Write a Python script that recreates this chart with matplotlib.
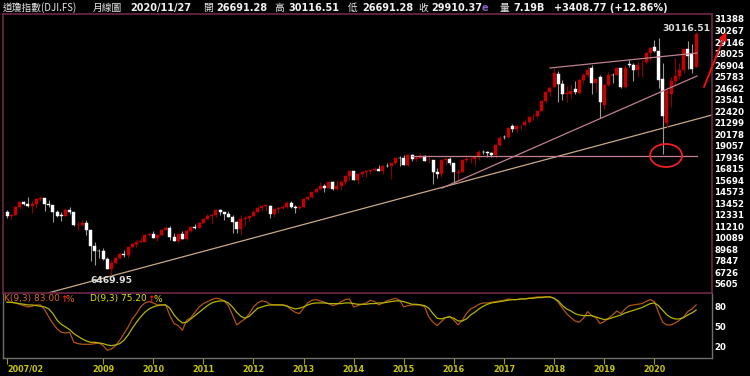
import numpy as np
import matplotlib
matplotlib.use("Agg")
from matplotlib import pyplot as plt
from matplotlib.patches import Ellipse

# monthly Dow Jones candles, 2007/02 .. 2020/11
opens = [
    12621, 12269, 12355, 13063, 13627, 13410, 13212, 13358, 13896, 13930, 13372,
    13262, 12652, 12263, 12264, 12820, 12638, 11346, 11378, 11545, 10847, 9326, 8829,
    8772, 7998, 7063, 7609, 8168, 8500, 8447, 9172, 9496, 9712, 9713, 10343,
    10430, 10068, 10326, 10857, 11009, 10137, 9774, 10466, 10016, 10789, 11118, 11007,
    11577, 11892, 12226, 12320, 12811, 12570, 12414, 12143, 11614, 10912, 11955, 12046,
    12218, 12632, 12952, 13212, 13214, 12391, 12880, 13009, 13091, 13437, 13096, 13026,
    13104, 13861, 14054, 14580, 14840, 15115, 14911, 15500, 14810, 15132, 15545, 16086,
    16572, 15698, 16321, 16458, 16581, 16716, 16826, 16561, 17098, 17041, 17391, 17828,
    17823, 17169, 18135, 17778, 17842, 18011, 17638, 17690, 16528, 16284, 17664, 17720,
    17405, 16452, 16546, 17685, 17774, 17790, 17924, 18432, 18400, 18308, 18141, 19122,
    19872, 19923, 20957, 20665, 20963, 21030, 21392, 21925, 21982, 22423, 23442, 24305,
    24809, 26083, 25025, 24076, 24117, 24542, 24161, 25462, 25964, 26598, 25152, 25779,
    23058, 24999, 25957, 25980, 26608, 24820, 26964, 26891, 26425, 26963, 27157, 28110,
    28639, 28320, 25591, 21227, 24120, 25342, 25879, 26419, 28439, 27940, 26691.28,
]
highs = [
    12796, 12455, 13162, 13692, 13692, 14022, 13659, 14000, 14198, 13914, 13792,
    13279, 12767, 12622, 13010, 13136, 12638, 11698, 11867, 11790, 10882, 9654, 9026,
    9088, 8280, 7925, 8254, 8588, 8878, 9172, 9631, 9918, 10119, 10496, 10580,
    10729, 10410, 10933, 11258, 11208, 10595, 10498, 10719, 10948, 11244, 11451, 11625,
    12020, 12391, 12419, 12876, 12929, 12570, 12753, 12284, 11717, 12284, 12208, 12258,
    12841, 13055, 13289, 13338, 13280, 12898, 13137, 13330, 13653, 13662, 13290, 13330,
    13970, 14149, 14585, 14888, 15542, 15340, 15634, 15659, 15710, 15721, 16174, 16588,
    16588, 16398, 16589, 16631, 16736, 16978, 17152, 17154, 17350, 17395, 17895, 18103,
    18121, 18244, 18289, 18175, 18351, 18176, 18137, 17710, 16933, 17799, 17978, 17996,
    17405, 16795, 17754, 18168, 18003, 18016, 18622, 18668, 18534, 18399, 19152, 19988,
    20125, 20851, 21169, 21071, 21113, 21535, 21929, 22179, 22420, 23485, 24327, 24876,
    26617, 26307, 25449, 24858, 25086, 25402, 25552, 26168, 26769, 26951, 25562, 25980,
    25075, 26242, 26110, 26696, 26640, 26907, 27399, 27075, 27306, 27399, 28175, 28702,
    29374, 29568, 27102, 24764, 25758, 27581, 27150, 28502, 29199, 28958, 30116.51,
]
lows = [
    12050, 11939, 12336, 12918, 13267, 13115, 12518, 12957, 13692, 12743, 13077,
    11634, 12140, 11731, 12250, 12442, 11288, 10827, 11221, 10365, 7882, 7449, 8149,
    7909, 7062, 6469.95, 7520, 8057, 8218, 8087, 9117, 9253, 9672, 9679, 10235,
    10034, 9835, 10306, 10848, 9870, 9757, 9614, 9937, 10010, 10711, 10929, 11006,
    11577, 11892, 11555, 12093, 12334, 11862, 12093, 10604, 10597, 10362, 11231, 11735,
    12218, 12632, 12702, 12710, 12035, 12101, 12492, 12898, 12977, 13013, 12471, 12883,
    13104, 13784, 13937, 14434, 14740, 14551, 14909, 14760, 14778, 14720, 15284, 15703,
    15699, 15340, 16015, 16015, 16334, 16647, 16563, 16333, 16945, 15855, 17278, 17068,
    17136, 17037, 17585, 17563, 17818, 17575, 17399, 15370, 15942, 16014, 17210, 17138,
    15450, 15503, 16511, 17485, 17331, 17063, 17713, 18277, 17992, 17959, 17884, 19057,
    19678, 19831, 20412, 20379, 20554, 20950, 21279, 21600, 21709, 22416, 23242, 23921,
    24741, 23360, 23509, 23344, 23691, 24077, 24077, 25044, 25793, 24123, 24269, 21713,
    22638, 24884, 25208, 25980, 24680, 24680, 26669, 25339, 25743, 25743, 27016, 27325,
    28169, 24681, 18214, 20735, 22789, 24843, 25524, 26170, 26538, 26144, 26691.28,
]
closes = [
    12268, 12354, 13063, 13628, 13409, 13212, 13358, 13896, 13930, 13372, 13265,
    12650, 12266, 12263, 12820, 12638, 11350, 11378, 11544, 10851, 9325, 8829, 8776,
    8001, 7063, 7609, 8168, 8500, 8447, 9172, 9496, 9712, 9713, 10345, 10428,
    10067, 10325, 10857, 11009, 10137, 9774, 10466, 10015, 10788, 11118, 11006, 11578,
    11892, 12226, 12320, 12811, 12570, 12414, 12143, 11614, 10913, 11955, 12046, 12218,
    12633, 12952, 13212, 13214, 12393, 12880, 13009, 13091, 13437, 13096, 13026, 13104,
    13861, 14054, 14579, 14840, 15116, 14910, 15500, 14810, 15130, 15546, 16086, 16577,
    15699, 16322, 16458, 16581, 16717, 16827, 16563, 17098, 17043, 17391, 17828, 17823,
    17165, 18133, 17776, 17841, 18011, 17620, 17690, 16528, 16285, 17664, 17720, 17425,
    16466, 16517, 17685, 17774, 17787, 17930, 18432, 18401, 18308, 18142, 19124, 19763,
    19864, 20812, 20663, 20941, 21009, 21350, 21891, 21948, 22405, 23377, 24272, 24719,
    26149, 25029, 24103, 24163, 24416, 24271, 25415, 25965, 26458, 25116, 25538, 23327,
    24999, 25916, 25929, 26593, 24815, 26600, 26864, 26403, 26917, 27046, 28051, 28538,
    28256, 25409, 21917, 24346, 25383, 25813, 26428, 28430, 27782, 26502, 29910.37,
]

# KD(9,3)
k_vals = [
    87, 87, 86, 84, 82, 80, 81, 83, 83, 76, 65,
    55, 47, 42, 41, 42, 27, 25, 24, 24, 24, 25, 26,
    22, 15, 17, 22, 30, 40, 50, 62, 70, 80, 86, 88,
    86, 83, 83, 83, 67, 55, 52, 45, 60, 64, 72, 80,
    85, 88, 91, 93, 92, 89, 82, 68, 53, 58, 62, 70,
    80, 86, 89, 88, 84, 83, 83, 83, 82, 76, 72, 70,
    78, 86, 90, 91, 89, 87, 85, 82, 84, 88, 91, 92,
    80, 82, 84, 86, 90, 88, 83, 86, 89, 91, 93, 90,
    80, 82, 83, 83, 83, 80, 65, 57, 52, 58, 64, 66,
    60, 53, 60, 70, 77, 80, 84, 86, 86, 87, 88, 89,
    90, 92, 91, 91, 92, 92, 93, 94, 95, 95, 95, 95,
    93, 87, 78, 70, 64, 59, 57, 63, 73, 67, 64, 55,
    58, 63, 68, 74, 70, 77, 82, 83, 84, 85, 88, 91,
    88, 72, 57, 53, 53, 56, 60, 65, 73, 77, 83.0,
]
d_vals = [
    87, 87, 86, 85, 84, 83, 83, 82, 81, 80, 77,
    70, 60, 54, 50, 46, 40, 36, 32, 29, 27, 27, 26,
    25, 23, 22, 23, 25, 30, 38, 48, 57, 65, 72, 77,
    80, 82, 83, 83, 78, 68, 61, 56, 57, 62, 67, 72,
    77, 82, 86, 88, 89, 89, 86, 80, 72, 66, 63, 66,
    72, 78, 80, 82, 83, 83, 83, 83, 81, 79, 77, 78,
    80, 83, 85, 86, 86, 86, 85, 85, 85, 85, 86, 86,
    85, 84, 84, 84, 85, 85, 86, 86, 87, 88, 89, 89,
    88, 86, 84, 84, 83, 82, 78, 70, 63, 62, 64, 65,
    63, 59, 59, 62, 68, 72, 77, 81, 84, 86, 87, 88,
    89, 90, 91, 91, 92, 92, 93, 93, 94, 94, 95, 95,
    93, 89, 82, 77, 74, 70, 68, 67, 67, 67, 65, 63,
    61, 62, 64, 66, 68, 71, 73, 75, 77, 79, 82, 85,
    86, 82, 75, 68, 64, 62, 62, 64, 68, 71, 75.2,
]

year_ticks = [0, 23, 35, 47, 59, 71, 83, 95, 107, 119, 131, 143, 155]
year_labels = ["2007/02", "2009", "2010", "2011", "2012", "2013", "2014",
               "2015", "2016", "2017", "2018", "2019", "2020"]
price_ticks = [31388, 30267, 29146, 28025, 26904, 25783, 24662, 23541, 22420,
               21299, 20178, 19057, 17936, 16815, 15694, 14573, 13452, 12331,
               11210, 10089, 8968, 7847, 6726, 5605]
kd_ticks = [20, 50, 80]

# hand drawn trend lines (month index, price)
tan_line = ([9.8, 168.8], [4729, 22047])
rise_line = ([104.2, 165.2], [14945, 25841])
top_line = ([130.0, 165.2], [26620, 28079])
flat_line = ([97.0, 165.2], [18058, 18058])

W, H = 750, 376
def box(x0, y0, x1, y1):
    return [x0 / W, 1 - y1 / H, (x1 - x0) / W, (y1 - y0) / H]

fig = plt.figure(figsize=(7.5, 3.76), dpi=100, facecolor="black")
ax = fig.add_axes(box(3, 14, 712, 293), facecolor="black")
kd = fig.add_axes(box(3, 294, 712, 358), facecolor="black")

x = np.arange(len(closes))
o = np.array(opens); c = np.array(closes)
up = c > o
body_col = np.where(up, "#c40000", "#ffffff")
wick_col = np.where(up, "#8c0000", "#9a9a9a")

ax.vlines(x, lows, highs, colors=wick_col, linewidth=0.8, zorder=2)
ax.bar(x, np.maximum(np.abs(c - o), 40), bottom=np.minimum(o, c), width=0.72,
       color=body_col, edgecolor=body_col, linewidth=0.3, zorder=3)

ax.plot(*tan_line, color="#c8a888", lw=0.9, zorder=1)
ax.plot(*rise_line, color="#c08090", lw=0.9, zorder=4)
ax.plot(*top_line, color="#c08090", lw=0.9, zorder=4)
ax.plot(*flat_line, color="#c08090", lw=0.9, zorder=4)
ax.add_patch(Ellipse((157.8, 18107), 7.66, 2238, fill=False, edgecolor="#f02020", lw=1.3, zorder=5))

i_hi = int(np.argmax(highs)); i_lo = int(np.argmin(lows))
ax.text(168.3, highs[i_hi] - 80, f"{highs[i_hi]:.2f}", color="#dcdcdc", fontsize=6.6,
        fontweight="bold", ha="right", va="bottom", zorder=6)
ax.text(i_lo, lows[i_lo] - 60, f"{lows[i_lo]:.2f}", color="#dcdcdc", fontsize=6.6,
        fontweight="bold", ha="center", va="top", zorder=6)

xlim = (-0.96, 168.8)
ax.set_xlim(*xlim)
ax.set_ylim(4729, 31874)
ax.set_xticks([])
ax.yaxis.tick_right()
ax.set_yticks(price_ticks)
ax.set_yticklabels([str(v) for v in price_ticks])
ax.tick_params(axis="y", length=0, pad=1.5, labelsize=6.2, labelcolor="white")
for lab in ax.get_yticklabels():
    lab.set_fontweight("bold")
for s in ax.spines.values():
    s.set_color("#6e2848"); s.set_linewidth(1.2)

kd.plot(x, k_vals, color="#b05418", lw=0.9)
kd.plot(x, d_vals, color="#b4b400", lw=0.9)
kd.set_xlim(*xlim)
kd.set_ylim(3.45, 99.4)
kd.yaxis.tick_right()
kd.set_yticks(kd_ticks)
kd.set_yticklabels([str(v) for v in kd_ticks])
kd.tick_params(axis="y", length=0, pad=1.5, labelsize=6.2, labelcolor="white")
for lab in kd.get_yticklabels():
    lab.set_fontweight("bold")
kd.set_xticks(year_ticks)
kd.set_xticklabels(year_labels)
kd.tick_params(axis="x", length=4, width=0.8, color="#a0a000", pad=1,
               labelsize=5.8, labelcolor="#c8c800")
for lab in kd.get_xticklabels():
    lab.set_fontweight("bold")
kd.get_xticklabels()[0].set_horizontalalignment("left")
kd.spines["top"].set_visible(False)
for s in ["left", "right", "bottom"]:
    kd.spines[s].set_color("#707070"); kd.spines[s].set_linewidth(1)

# KD legend texts
ty = 1 - 299 / H
def ftxt(px, s, col, **kw):
    fig.text(px / W, ty, s, color=col, fontsize=6.5, va="center", ha="left", **kw)
ftxt(4, f"K(9,3) {k_vals[-1]:.2f}", "#d86a20")
ftxt(60, "\u2191", "#ff1010", fontweight="bold")
ftxt(66, "%", "#d86a20")
ftxt(90, f"D(9,3) {d_vals[-1]:.2f}", "#e0e000")
ftxt(147, "\u2191", "#ff1010", fontweight="bold")
ftxt(153, "%", "#e0e000")

# header line
cjk = ["Noto Sans CJK TC", "DejaVu Sans"]
hy = 1 - 8 / H
header = [
    (3, "道瓊指數(DJI.FS)", "#e8e8e8", "normal", cjk),
    (93, "月線圖", "#e8e8e8", "normal", cjk),
    (130, "2020/11/27", "#f0f0f0", "bold", ["DejaVu Sans"]),
    (203, "開", "#e8e8e8", "normal", cjk),
    (216, f"{opens[-1]:.2f}", "#f0f0f0", "bold", ["DejaVu Sans"]),
    (274, "高", "#e8e8e8", "normal", cjk),
    (288, f"{highs[-1]:.2f}", "#f0f0f0", "bold", ["DejaVu Sans"]),
    (348, "低", "#e8e8e8", "normal", cjk),
    (362, f"{lows[-1]:.2f}", "#f0f0f0", "bold", ["DejaVu Sans"]),
    (418, "收", "#e8e8e8", "normal", cjk),
    (431, f"{closes[-1]:.2f}", "#f0f0f0", "bold", ["DejaVu Sans"]),
    (482, "e", "#8a5cc8", "bold", ["DejaVu Sans"]),
    (500, "量", "#e8e8e8", "normal", cjk),
    (513, "7.19B", "#f0f0f0", "bold", ["DejaVu Sans"]),
    (554, "+3408.77 (+12.86%)", "#f0f0f0", "bold", ["DejaVu Sans"]),
]
for px, s, col, wt, fam in header:
    fig.text(px / W, hy, s, color=col, fontsize=7, fontweight=wt, family=fam,
             va="center", ha="left")

# red arrow pointing up-right over the price scale
arr = fig.add_artist(plt.Annotation("", xy=(726 / W, 1 - 32 / H), xytext=(704 / W, 1 - 87 / H),
                     xycoords="figure fraction", textcoords="figure fraction",
                     arrowprops=dict(arrowstyle="-|>", color="#ee1010", lw=1.4,
                                     mutation_scale=11, shrinkA=0, shrinkB=0)))
arr.set_zorder(10)

fig.savefig("out.png", dpi=100, facecolor="black")
